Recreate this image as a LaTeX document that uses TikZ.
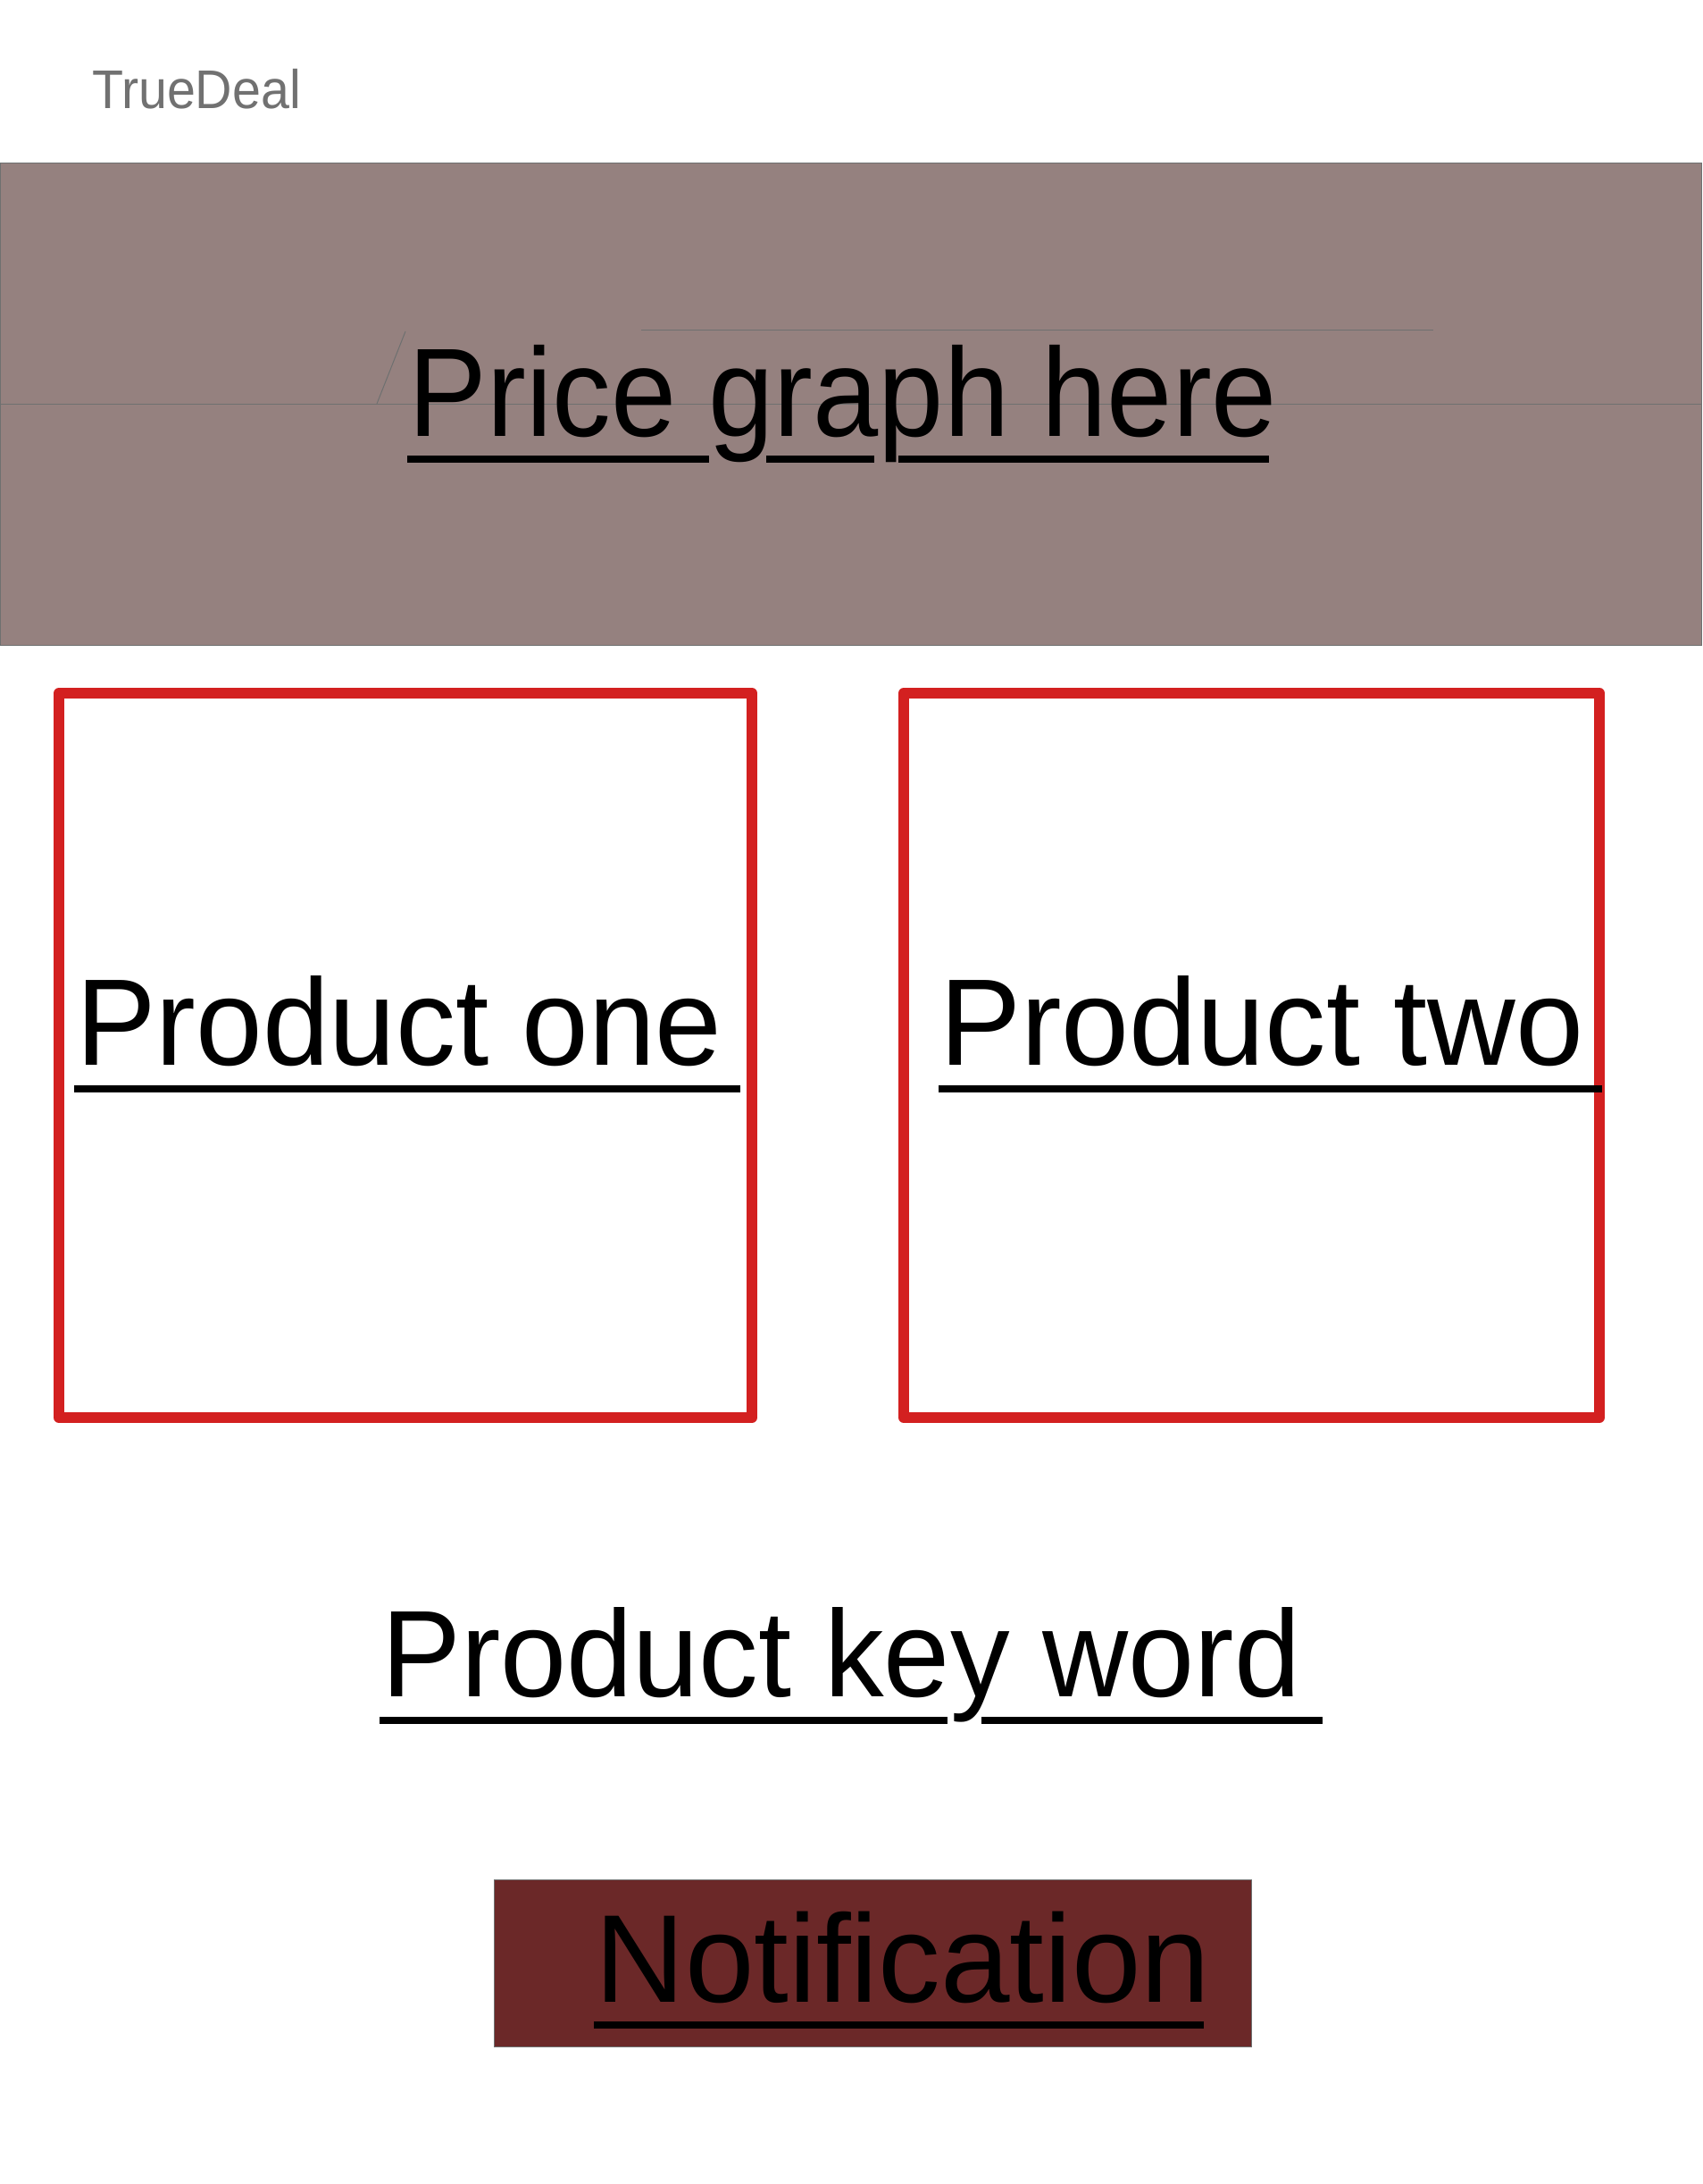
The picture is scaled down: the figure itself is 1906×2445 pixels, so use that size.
\documentclass[tikz,border=0pt]{standalone}
\usepackage{fontspec}
\setmainfont{Liberation Sans}
\definecolor{graybox}{HTML}{95817F}
\definecolor{grayline}{HTML}{6E7070}
\definecolor{redline}{HTML}{D32020}
\definecolor{notefill}{HTML}{6B2828}
\definecolor{logogray}{HTML}{717171}
\tikzset{
  bigtext/.style={inner sep=0pt, anchor=base, text=black},
  uline/.style={line width=4pt, black},
  thinline/.style={line width=0.5pt, grayline},
  prodbox/.style={line width=6pt, redline, line join=round},
}
\begin{document}
\begin{tikzpicture}[x=0.5pt,y=-0.5pt]
\useasboundingbox (0,0) rectangle (1906,2445);
\fill[white] (0,0) rectangle (1906,2445);
% logo
\node[inner sep=0pt, anchor=base, text=logogray, font=\fontsize{30.5pt}{36pt}\selectfont] (logo) at (220,122) {\scalebox{0.94}[1]{TrueDeal}};
% graph area
\filldraw[fill=graybox, draw=grayline, line width=0.5pt] (0.5,182.5) rectangle (1905.5,722);
\draw[thinline] (0,452) -- (1906,452);
\draw[thinline] (718,370) -- (1605,370);
\draw[thinline] (454,371) -- (422,452);
\node[bigtext, font=\fontsize{70.5pt}{80pt}\selectfont] (graph) at (944,488) {\scalebox{0.933}[1]{Price graph here}};
\draw[uline] (456,514) -- (794,514);
\draw[uline] (858,514) -- (979,514);
\draw[uline] (1006,514) -- (1421,514);
% product boxes
\draw[prodbox] (66,776) rectangle (842,1587);
\draw[prodbox] (1012,776) rectangle (1791,1587);
\node[bigtext, font=\fontsize{69pt}{80pt}\selectfont] (p1) at (447,1192) {\scalebox{0.972}[1]{Product one}};
\node[bigtext, font=\fontsize{69pt}{80pt}\selectfont] (p2) at (1413,1192) {\scalebox{0.99}[1]{Product two}};
\draw[uline] (83,1219) -- (829,1219);
\draw[uline] (1051,1219) -- (1794,1219);
% key word
\node[bigtext, font=\fontsize{69pt}{80pt}\selectfont] (kw) at (942,1899) {\scalebox{0.965}[1]{Product key word}};
\draw[uline] (425,1925.5) -- (1061,1925.5);
\draw[uline] (1099,1925.5) -- (1481,1925.5);
% notification
\filldraw[fill=notefill, draw=grayline, line width=0.5pt] (553.5,2104.5) rectangle (1401.5,2291.5);
\node[bigtext, font=\fontsize{70pt}{80pt}\selectfont] (note) at (1011,2241) {\scalebox{0.995}[1]{Notification}};
\draw[uline] (665,2267) -- (1348,2267);
\end{tikzpicture}
\end{document}
